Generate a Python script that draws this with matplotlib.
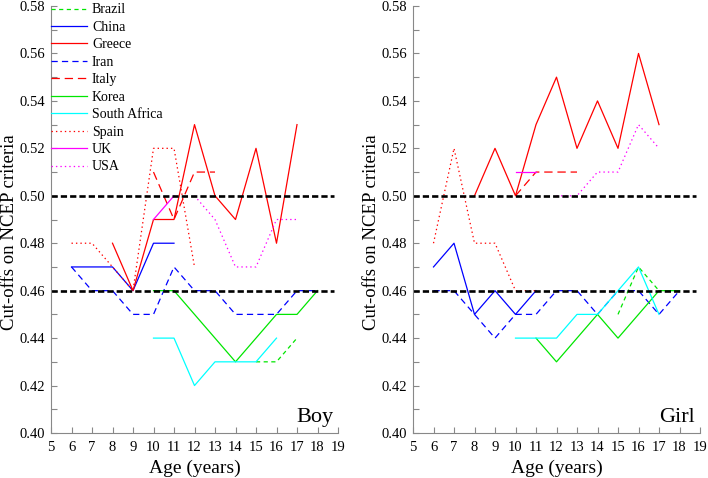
import matplotlib.pyplot as plt

# Cut-off values (age in years -> cut-off)
brazil_boy_age = [15, 16, 17]
brazil_boy = [0.43, 0.43, 0.44]
china_boy_age = [6, 7, 8, 9, 10, 11]
china_boy = [0.47, 0.47, 0.47, 0.46, 0.48, 0.48]
greece_boy_age = [8, 9, 10, 11, 12, 13, 14, 15, 16, 17]
greece_boy = [0.48, 0.46, 0.49, 0.49, 0.53, 0.50, 0.49, 0.52, 0.48, 0.53]
iran_boy_age = [6, 7, 8, 9, 10, 11, 12, 13, 14, 15, 16, 17, 18]
iran_boy = [0.47, 0.46, 0.46, 0.45, 0.45, 0.47, 0.46, 0.46, 0.45, 0.45, 0.45, 0.46, 0.46]
italy_boy_age = [10, 11, 12, 13]
italy_boy = [0.51, 0.49, 0.51, 0.51]
korea_boy_age = [10, 11, 12, 13, 14, 15, 16, 17, 18]
korea_boy = [0.46, 0.46, 0.45, 0.44, 0.43, 0.44, 0.45, 0.45, 0.46]
safrica_boy_age = [10, 11, 12, 13, 14, 15, 16]
safrica_boy = [0.44, 0.44, 0.42, 0.43, 0.43, 0.43, 0.44]
spain_boy_age = [6, 7, 8, 9, 10, 11, 12]
spain_boy = [0.48, 0.48, 0.47, 0.46, 0.52, 0.52, 0.47]
uk_boy_age = [10, 11]
uk_boy = [0.49, 0.50]
usa_boy_age = [12, 13, 14, 15, 16, 17]
usa_boy = [0.50, 0.49, 0.47, 0.47, 0.49, 0.49]

brazil_girl_age = [15, 16, 17]
brazil_girl = [0.45, 0.47, 0.46]
china_girl_age = [6, 7, 8, 9, 10, 11]
china_girl = [0.47, 0.48, 0.45, 0.46, 0.45, 0.46]
greece_girl_age = [8, 9, 10, 11, 12, 13, 14, 15, 16, 17]
greece_girl = [0.50, 0.52, 0.50, 0.53, 0.55, 0.52, 0.54, 0.52, 0.56, 0.53]
iran_girl_age = [6, 7, 8, 9, 10, 11, 12, 13, 14, 15, 16, 17, 18]
iran_girl = [0.46, 0.46, 0.45, 0.44, 0.45, 0.45, 0.46, 0.46, 0.45, 0.46, 0.46, 0.45, 0.46]
italy_girl_age = [10, 11, 12, 13]
italy_girl = [0.50, 0.51, 0.51, 0.51]
korea_girl_age = [11, 12, 13, 14, 15, 16, 17, 18]
korea_girl = [0.44, 0.43, 0.44, 0.45, 0.44, 0.45, 0.46, 0.46]
safrica_girl_age = [10, 11, 12, 13, 14, 15, 16, 17]
safrica_girl = [0.44, 0.44, 0.44, 0.45, 0.45, 0.46, 0.47, 0.45]
spain_girl_age = [6, 7, 8, 9, 10, 11]
spain_girl = [0.48, 0.52, 0.48, 0.48, 0.46, 0.46]
uk_girl_age = [10, 11]
uk_girl = [0.51, 0.51]
usa_girl_age = [12, 13, 14, 15, 16, 17]
usa_girl = [0.50, 0.50, 0.51, 0.51, 0.53, 0.52]

# NCEP reference lines
ncep_levels = [0.50, 0.46]

# (name, colour, dash pattern in points; None = solid)
styles = [
    ('Brazil', '#00e600', (3, 2.5)),
    ('China', '#0000ff', None),
    ('Greece', '#ff0000', None),
    ('Iran', '#0000ff', (4.5, 3)),
    ('Italy', '#ff0000', (6, 3.5)),
    ('Korea', '#00e600', None),
    ('South Africa', '#00ffff', None),
    ('Spain', '#ff0000', (1, 2.2)),
    ('UK', '#ff00ff', None),
    ('USA', '#ff00ff', (1, 2.2)),
]

boy = [(brazil_boy_age, brazil_boy), (china_boy_age, china_boy), (greece_boy_age, greece_boy),
       (iran_boy_age, iran_boy), (italy_boy_age, italy_boy), (korea_boy_age, korea_boy),
       (safrica_boy_age, safrica_boy), (spain_boy_age, spain_boy), (uk_boy_age, uk_boy),
       (usa_boy_age, usa_boy)]
girl = [(brazil_girl_age, brazil_girl), (china_girl_age, china_girl), (greece_girl_age, greece_girl),
        (iran_girl_age, iran_girl), (italy_girl_age, italy_girl), (korea_girl_age, korea_girl),
        (safrica_girl_age, safrica_girl), (spain_girl_age, spain_girl), (uk_girl_age, uk_girl),
        (usa_girl_age, usa_girl)]

plt.rcParams['font.family'] = ['Liberation Serif', 'DejaVu Serif']
plt.rcParams['lines.scale_dashes'] = False

fig = plt.figure(figsize=(7.08, 4.78), dpi=100)
ax_boy = fig.add_axes([51 / 708, 45 / 478, 287 / 708, 427 / 478])
ax_girl = fig.add_axes([413 / 708, 45 / 478, 287 / 708, 427 / 478])

for ax, series, tag in [(ax_boy, boy, 'Boy'), (ax_girl, girl, 'Girl')]:
    for (age, vals), (name, color, dash) in zip(series, styles):
        line, = ax.plot(age, vals, color=color, lw=0.9, label=name)
        if dash is not None:
            line.set_dashes(dash)
    for lvl in ncep_levels:
        ax.plot([5, 18.8], [lvl, lvl], color='black', lw=1.9, dashes=(4.5, 2.2))

    ax.set_xlim(5, 19)
    ax.set_ylim(0.40, 0.58)
    ax.set_xticks(range(5, 20))
    ax.set_yticks([0.40 + 0.02 * i for i in range(10)])
    ax.set_yticks([0.41 + 0.02 * i for i in range(9)], minor=True)
    ax.yaxis.set_major_formatter(plt.FormatStrFormatter('%.2f'))
    ax.tick_params(direction='in', length=4, width=0.8, color='#888888', labelsize=10.5)
    ax.tick_params(axis='x', pad=6)
    ax.tick_params(axis='y', pad=4)
    ax.tick_params(which='minor', direction='in', length=4, width=0.8, color='#888888')
    for side in ['top', 'right']:
        ax.spines[side].set_visible(False)
    for side in ['left', 'bottom']:
        ax.spines[side].set_color('#888888')
        ax.spines[side].set_linewidth(0.8)
    ax.set_xlabel('Age (years)', fontsize=14, labelpad=4)
    ax.set_ylabel('Cut-offs on NCEP criteria', fontsize=13.5)
    ax.yaxis.set_label_coords(-0.115, 0.47)
    ax.text(0.983, 0.026, tag, transform=ax.transAxes, ha='right', va='baseline', fontsize=16)

ax_boy.legend(loc='upper left', bbox_to_anchor=(0.0, 1.006), frameon=False, fontsize=10,
              handlelength=2.6, handletextpad=0.35, labelspacing=0.32, borderpad=0, borderaxespad=0)

fig.savefig('out.png', dpi=100)
